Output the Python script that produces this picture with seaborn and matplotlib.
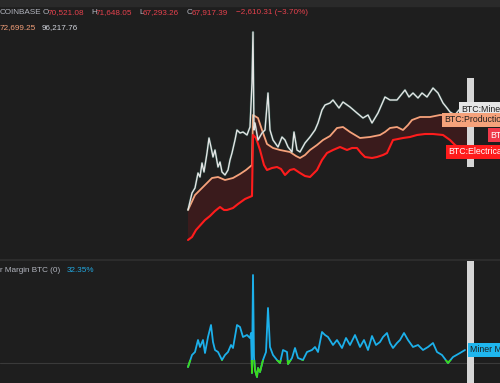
import numpy as np
import matplotlib
matplotlib.use("Agg")
import matplotlib.pyplot as plt
import seaborn as sns
from matplotlib.patches import Rectangle

# %%
# BTC close, k USD, by week index
price_t = [0, 4, 7, 10, 12, 14, 16, 19, 21, 23, 25, 27, 30, 32, 34, 37, 40, 42, 44, 47,
           49, 52, 55, 59, 62, 64, 65, 66, 67, 70, 74, 77, 80, 82, 85, 90, 94, 97, 100, 104,
           106, 109, 112, 117, 122, 127, 130, 134, 137, 142, 145, 151, 155, 162, 169, 175, 180, 184, 190, 197,
           202, 209, 213, 217, 221, 225, 230, 234, 239, 245, 250, 255, 259, 262, 267, 271, 274, 278]
price_v = [20, 28.5, 31, 38.5, 36.5, 43.5, 39, 48.5, 56, 51.5, 46.5, 50, 41.5, 44, 39, 37.5, 40, 45, 48.5, 55,
           60, 58.5, 59, 57.5, 61.5, 83.5, 109, 60, 63.5, 55, 58.5, 60, 78.5, 60, 55, 51.5, 56.5, 55, 51.5, 49,
           59, 50, 49, 53.5, 56.5, 60, 63.5, 70, 72.5, 73.5, 75, 71, 74, 71.5, 68.5, 66, 67.5, 63.5, 68.5, 76.5,
           75, 75, 77.5, 80, 76.5, 78.5, 76, 78.5, 76.5, 81, 78.5, 73.5, 71, 69, 67.5, 70, 68.5, 69]

# production cost
prod_t = [0, 7, 17, 24, 30, 37, 45, 52, 58, 64, 65, 70, 74, 79, 85, 92, 102, 108, 112, 117,
          122, 129, 135, 142, 149, 155, 162, 167, 172, 182, 192, 197, 202, 209, 215, 220, 224, 232, 242, 252,
          259, 267, 279]
prod_v = [20, 27.5, 32.5, 36, 36.5, 35, 36, 38, 40, 42.5, 67.5, 66, 60, 53, 51, 50, 49, 47, 46, 47.5,
          50, 52.5, 55, 57, 61, 61.5, 59, 57.5, 56, 56.5, 57.5, 59, 61, 61.5, 60, 62.5, 65, 66.5, 66.5, 67.5,
          67.5, 67, 66.5]

# electrical cost
elec_t = [0, 4, 8, 17, 22, 27, 32, 36, 39, 45, 50, 57, 64, 65, 68, 72, 76, 79, 84, 89,
          93, 97, 102, 106, 112, 117, 122, 129, 134, 139, 145, 152, 159, 164, 169, 173, 177, 184, 189, 195,
          199, 205, 215, 222, 229, 237, 245, 255, 262, 267, 274, 279]
elec_v = [5, 6.5, 10, 15, 17, 19.5, 21.5, 20, 20, 21, 23, 25.5, 27, 57.5, 56, 50, 42.5, 40, 41, 41.5,
          40.5, 37.5, 40, 40.5, 38.5, 37, 36.5, 40, 45, 48.5, 50, 51.5, 50, 51, 51, 48.5, 46.5, 46, 46.5, 47.5,
          48.5, 55, 56, 56.5, 57.5, 58, 58, 57.5, 55, 52.5, 50, 49.5]

other_btc = 57.5

# miner margin %
margin_t = [0, 4, 7, 10, 12, 15, 17, 20, 23, 25, 27, 30, 34, 37, 40, 43, 45, 49, 52, 55,
            59, 62, 63, 64, 65, 66, 67, 69, 70, 72, 75, 78, 80, 82, 85, 89, 92, 95, 99, 100,
            104, 107, 110, 115, 119, 124, 127, 130, 134, 137, 140, 145, 149, 154, 158, 162, 167, 172, 176, 180,
            184, 188, 192, 195, 199, 202, 205, 209, 212, 216, 220, 225, 230, 235, 240, 245, 249, 254, 260, 265,
            272, 277]
margin_v = [-10, 20, 27.5, 57.5, 40, 57.5, 25, 65, 95, 52.5, 32.5, 27.5, 7.5, 20, 27.5, 45, 37.5, 95, 90, 65,
            70, 62.5, 75, -25, 220, 15, -17.5, -35, -12.5, -22.5, 7.5, 27.5, 137.5, 40, 20, 7.5, 0, 32.5, 27.5, -2.5,
            12.5, 37.5, 12.5, 7.5, 27.5, 32.5, 40, 27.5, 77.5, 70, 65, 45, 57.5, 37.5, 62.5, 45, 70, 40, 57.5, 32.5,
            67.5, 45, 52.5, 65, 75, 50, 37.5, 50, 57.5, 75, 57.5, 40, 45, 32.5, 40, 50, 27.5, 20, 0, 15,
            25, 32.5]

header_row1 = [("COINBASE", "#b2b5be", 0), ("O", "#b2b5be", 43), ("70,521.08", "#e5414d", 48),
               ("H", "#b2b5be", 91), ("71,648.05", "#e5414d", 96), ("L", "#b2b5be", 139),
               ("67,293.26", "#e5414d", 143), ("C", "#b2b5be", 187), ("67,917.39", "#e5414d", 192),
               ("\u22122,610.31 (\u22123.70%)", "#e5414d", 236)]
header_row2 = [("72,699.25", "#f4a07a", 0), ("96,217.76", "#d1d4dc", 42)]

# %%
bg = "#1e1e1e"
sns.set_theme(style="dark", rc={"figure.facecolor": bg, "axes.facecolor": bg})
plt.rcParams["font.family"] = ["Liberation Sans", "DejaVu Sans"]

W, H = 500, 383
fs = 5.9
fig = plt.figure(figsize=(5, 3.83), dpi=100)

ax = fig.add_axes([0, 1 - 259 / H, 1, 259 / H])
ax2 = fig.add_axes([0, 0, 1, 122 / H])
for a in (ax, ax2):
    a.set_axis_off()
    a.set_xlim(-188, 312)
ax.set_ylim(-4.5, 125)
ax2.set_ylim(-50, 255)

# header strip and pane divider
fig.patches.append(Rectangle((0, 1 - 6 / H), 1, 6 / H, transform=fig.transFigure,
                             color="#2a2a2a", zorder=0))
fig.lines.append(plt.Line2D([0, 1], [1 - 260 / H] * 2, transform=fig.transFigure,
                            color="#303030", lw=1.2))

# cost band
ax.fill(np.r_[prod_t, elec_t[::-1]], np.r_[prod_v, elec_v[::-1]], color="#3a1b1c", lw=0, zorder=1)
sns.lineplot(x=prod_t, y=prod_v, ax=ax, color="#f5a27b", lw=1.3, estimator=None, zorder=3)
sns.lineplot(x=elec_t, y=elec_v, ax=ax, color="#ff1c1c", lw=1.5, estimator=None, zorder=3)
sns.lineplot(x=price_t, y=price_v, ax=ax, color="#4db6a0", lw=1.8, alpha=0.25, estimator=None, zorder=4)
sns.lineplot(x=price_t, y=price_v, ax=ax, color="#e4e4e4", lw=1.0, estimator=None, zorder=4)

# scroll marker
ax.axvspan(279, 286, ymin=0.355, ymax=0.699, color="#d6d6d6", zorder=5, lw=0)
ax2.axvspan(279, 286, ymin=0, ymax=1, color="#d6d6d6", zorder=5, lw=0)

# right side labels
yt = ax.get_yaxis_transform()
lab = dict(transform=yt, fontsize=6.3, va="center", ha="left", zorder=6, clip_on=False)
ax.text(0.922, price_v[-1] + 1.5, "BTC:Miner", color="#1e1e1e",
        bbox=dict(boxstyle="square,pad=0.25", fc="#e6e6e6", ec="none"), **lab)
ax.text(0.888, prod_v[-1] - 1.5, "BTC:Production", color="#1e1e1e",
        bbox=dict(boxstyle="square,pad=0.25", fc="#f5a27b", ec="none"), **lab)
ax.text(0.980, other_btc, "BTC:Price", color="white",
        bbox=dict(boxstyle="square,pad=0.25", fc="#f0384a", ec="none"), **lab)
ax.text(0.897, elec_v[-1] - 0.5, "BTC:Electrical", color="white",
        bbox=dict(boxstyle="square,pad=0.25", fc="#ff1c1c", ec="none"), **lab)

# margin pane
ax2.axhline(0, color="#3a3a3a", lw=0.8, zorder=1)
sns.lineplot(x=margin_t, y=margin_v, ax=ax2, color="#1cb0ea", lw=1.3, estimator=None, zorder=3)
sns.lineplot(x=margin_t, y=margin_v, ax=ax2, color="#3ddb1a", lw=1.3, estimator=None, zorder=4)
ax2.lines[-1].set_clip_path(Rectangle((-188, -50), 500, 58, transform=ax2.transData))
ax2.text(0.94, margin_v[-1], "Miner Margin", transform=ax2.get_yaxis_transform(), fontsize=6.3,
         va="center", ha="left", color="#1e1e1e", zorder=6, clip_on=False,
         bbox=dict(boxstyle="square,pad=0.25", fc="#1fb6ee", ec="none"))

# header text
for txt, c, x in header_row1:
    fig.text(x / W, 1 - 13 / H, txt, color=c, fontsize=fs, va="center")
for txt, c, x in header_row2:
    fig.text(x / W, 1 - 28 / H, txt, color=c, fontsize=fs, va="center")
fig.text(0, 1 - 271 / H, "r Margin BTC (0)", color="#b2b5be", fontsize=fs, va="center")
fig.text(67 / W, 1 - 271 / H, "32.35%", color="#22a8e0", fontsize=fs, va="center")

fig.savefig("out.png", dpi=100, facecolor=bg)
